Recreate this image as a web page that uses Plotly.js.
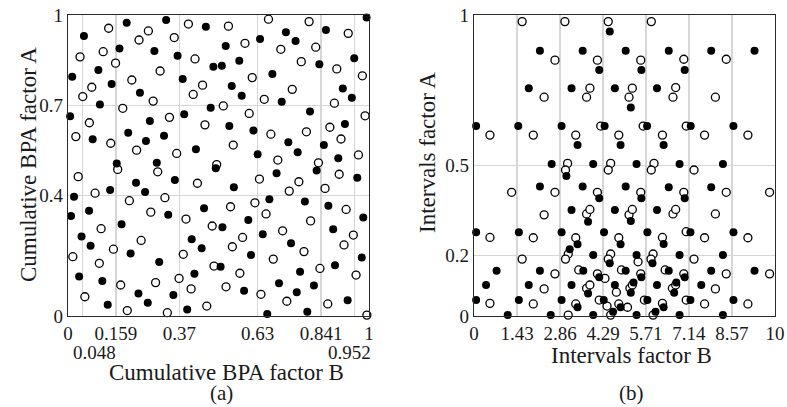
<!DOCTYPE html>
<html>
<head>
<meta charset="utf-8">
<script src="https://cdn.plot.ly/plotly-3.0.1.min.js"></script>
<style>html,body{margin:0;padding:0;background:#fff;}#chart{width:787px;height:407px;}</style>
</head>
<body>
<div id="chart"></div>
<script>
// ---------- Panel (a): cumulative BPA ----------
const aTicksX = [0, 0.048, 0.159, 0.37, 0.63, 0.841, 0.952, 1];
const aTickTextX = ['0', '', '0.159', '0.37', '0.63', '0.841', '', '1'];
const aTicksY = [0, 0.4, 0.7, 1];
const aTickTextY = ['0', '0.4', '0.7', '1'];

const aFilledX = [0.195,0.326,0.458,0.053,0.524,0.171,0.287,0.364,0.483,0.511,0.101,0.014,0.381,0.145,0.544,0.239,0.106,0.474,0.007,0.386,0.272,0.536,0.200,0.319,0.082,0.259,0.425,0.162,0.295,0.491,0.226,0.355,0.551,0.140,0.256,0.020,0.452,0.070,0.010,0.333,0.178,0.513,0.045,0.411,0.075,0.444,0.208,0.303,0.507,0.420,0.037,0.114,0.234,0.350,0.265,0.132,0.396,
  0.992,0.724,0.857,0.638,0.756,0.951,0.569,0.835,0.679,0.913,0.577,0.943,0.710,0.804,0.920,0.616,0.732,0.850,0.763,0.630,0.898,0.693,0.826,0.961,0.669,0.787,0.865,0.599,0.981,0.881,0.647,0.741,0.608,0.976,0.887,0.771,0.701,0.817,0.585,0.760,0.929,0.662,0.795];
const aFilledY = [0.974,0.983,0.961,0.930,0.897,0.889,0.880,0.865,0.828,0.831,0.817,0.795,0.787,0.771,0.764,0.742,0.703,0.692,0.664,0.670,0.648,0.631,0.609,0.599,0.587,0.581,0.554,0.507,0.509,0.491,0.443,0.452,0.428,0.419,0.412,0.396,0.358,0.350,0.332,0.336,0.305,0.295,0.264,0.255,0.233,0.225,0.208,0.179,0.164,0.140,0.131,0.116,0.075,0.070,0.044,0.037,0.022,
  0.992,0.943,0.950,0.920,0.914,0.856,0.848,0.836,0.804,0.756,0.732,0.725,0.712,0.679,0.638,0.616,0.577,0.568,0.544,0.537,0.524,0.474,0.483,0.459,0.388,0.380,0.366,0.319,0.327,0.288,0.272,0.242,0.203,0.194,0.169,0.147,0.109,0.101,0.084,0.079,0.052,0.007,0.014];

const aOpenX = [0.400,0.533,0.135,0.267,0.236,0.353,0.117,0.040,0.422,0.158,0.306,0.212,0.447,0.079,0.416,0.049,0.283,0.182,0.516,0.337,0.071,0.455,0.026,0.142,0.549,0.228,0.361,0.165,0.298,0.494,0.034,0.430,0.090,0.322,0.204,0.540,0.275,0.392,0.479,0.110,0.243,0.151,0.546,0.383,0.016,0.104,0.485,0.369,0.291,0.175,0.525,0.409,0.056,0.461,0.197,0.330,
  0.666,0.801,0.931,0.588,0.707,0.823,0.775,0.893,0.978,0.612,0.745,0.652,0.885,0.602,0.987,0.870,0.792,0.674,0.907,0.965,0.697,0.832,0.901,0.636,0.767,0.735,0.854,0.621,0.924,0.658,0.806,0.713,0.580,0.948,0.917,0.784,0.682,0.837,0.571,0.957,0.641,0.727,0.863,0.993];
const aOpenY = [0.970,0.963,0.956,0.947,0.917,0.925,0.878,0.861,0.854,0.840,0.814,0.784,0.767,0.760,0.736,0.729,0.714,0.690,0.698,0.660,0.642,0.635,0.596,0.574,0.568,0.551,0.540,0.487,0.479,0.503,0.463,0.441,0.408,0.393,0.383,0.363,0.345,0.322,0.299,0.290,0.251,0.222,0.230,0.205,0.197,0.175,0.166,0.125,0.111,0.103,0.097,0.090,0.064,0.033,0.018,0.011,
  0.986,0.978,0.939,0.906,0.886,0.893,0.845,0.821,0.798,0.792,0.753,0.720,0.707,0.673,0.665,0.627,0.612,0.604,0.588,0.535,0.518,0.509,0.471,0.455,0.446,0.415,0.424,0.376,0.354,0.339,0.316,0.283,0.261,0.269,0.236,0.214,0.189,0.158,0.142,0.136,0.072,0.049,0.040,0.003];

// ---------- Panel (b): intervals ----------
const bTicksX = [0, 1.43, 2.86, 4.29, 5.71, 7.14, 8.57, 10];
const bTickTextX = ['0', '1.43', '2.86', '4.29', '5.71', '7.14', '8.57', '10'];
const bTicksY = [0, 0.2, 0.5, 1];
const bTickTextY = ['0', '0.2', '0.5', '1'];

const bFilledX = [0.07,0.07,0.75,0.40,0.07,1.12,
  4.51,
  2.19,3.61,5.04,6.47,7.88,9.32,
  4.16,5.56,7.00,
  1.82,3.24,4.68,6.08,
  5.21,
  1.47,2.91,4.34,5.75,7.20,8.62,
  3.44,4.87,6.30,
  2.58,3.96,5.40,6.83,8.27,
  3.07,
  2.19,3.61,5.04,6.47,7.88,
  4.16,5.56,7.00,
  3.24,4.68,6.08,
  3.79,5.21,
  1.49,2.91,4.32,5.76,7.19,8.62,
  3.44,4.87,6.30,
  3.18,
  3.96,5.40,6.83,8.27,
  4.51,5.93,
  2.19,3.63,5.04,6.47,7.88,9.32,
  4.16,5.56,7.00,
  1.82,3.24,4.68,6.08,7.55,
  5.30,6.72,
  3.79,5.21,6.65,
  1.49,2.91,4.31,5.76,7.19,8.62,
  3.44,4.87,6.30,
  4.62,6.03,
  2.55,3.96,5.40,6.83,8.27];
const bFilledY = [0.631,0.278,0.150,0.103,0.053,0.003,
  0.945,
  0.881,0.881,0.881,0.881,0.881,0.881,
  0.817,0.817,0.817,
  0.757,0.757,0.757,0.757,
  0.693,
  0.631,0.631,0.631,0.631,0.631,0.631,
  0.568,0.568,0.568,
  0.505,0.505,0.505,0.505,0.505,
  0.465,
  0.430,0.430,0.430,0.428,0.428,
  0.391,0.391,0.391,
  0.352,0.352,0.352,
  0.313,0.316,
  0.278,0.278,0.278,0.278,0.278,0.278,
  0.238,0.238,0.239,
  0.222,
  0.203,0.203,0.203,0.203,
  0.175,0.175,
  0.150,0.150,0.150,0.150,0.150,0.150,
  0.129,0.129,0.129,
  0.103,0.103,0.103,0.103,0.103,
  0.111,0.111,
  0.075,0.077,0.077,
  0.053,0.053,0.053,0.053,0.053,0.053,
  0.029,0.029,0.029,
  0.014,0.014,
  0.003,0.003,0.003,0.003,0.003];

const bOpenX = [1.60,3.02,4.46,5.89,
  2.69,4.10,5.54,6.97,8.38,
  3.85,5.26,6.70,
  2.33,3.74,5.15,6.61,8.02,
  4.21,5.62,7.05,
  0.53,1.97,3.38,4.81,6.26,7.66,9.10,
  3.11,4.54,5.98,
  3.04,4.46,5.89,7.31,
  1.25,2.69,4.10,5.54,6.97,8.38,9.82,
  2.33,3.74,5.15,6.61,8.02,
  3.85,5.26,6.70,
  0.53,1.97,3.38,4.81,6.26,7.66,9.10,7.05,
  3.13,4.54,5.95,
  1.60,3.04,4.46,5.88,7.31,
  5.45,
  2.69,4.10,5.54,6.97,8.38,9.82,
  3.48,4.90,6.35,
  4.35,
  2.33,3.74,5.18,6.59,8.02,
  3.85,5.26,6.70,
  4.73,
  0.53,1.97,3.38,4.81,6.26,7.66,9.10,
  4.16,5.66,7.05,
  4.42,5.10,
  3.13,4.54,5.95];
const bOpenY = [0.978,0.978,0.978,0.978,
  0.850,0.850,0.850,0.853,0.853,
  0.757,0.757,0.759,
  0.727,0.727,0.727,0.727,0.727,
  0.631,0.631,0.631,
  0.601,0.601,0.601,0.601,0.601,0.601,0.601,
  0.507,0.507,0.507,
  0.485,0.485,0.485,0.485,
  0.411,0.411,0.411,0.411,0.411,0.411,0.411,
  0.336,0.339,0.336,0.339,0.339,
  0.354,0.354,0.354,
  0.261,0.260,0.260,0.260,0.261,0.260,0.260,0.280,
  0.206,0.206,0.206,
  0.189,0.189,0.189,0.189,0.189,
  0.180,
  0.140,0.140,0.140,0.140,0.140,0.140,
  0.153,0.153,0.153,
  0.125,
  0.090,0.092,0.092,0.092,0.090,
  0.103,0.103,0.103,
  0.079,
  0.042,0.040,0.040,0.040,0.042,0.040,0.040,
  0.053,0.053,0.053,
  0.033,0.029,
  0.003,0.003,0.003];

// ---------- styling ----------
const FONT = 'Liberation Serif, Times New Roman, serif';
const TXT = '#1a1a1a';
const GRID = '#d6d6d6';
const LINE = '#2b2b2b';

const filledMarker = {symbol: 'circle', size: 8, color: '#000000', line: {width: 0}};
const openMarker = {symbol: 'circle', size: 8, color: '#ffffff', line: {color: '#000000', width: 1.3}};

const traces = [
  {x: aOpenX, y: aOpenY, xaxis: 'x', yaxis: 'y', type: 'scatter', mode: 'markers', marker: openMarker, cliponaxis: false, hoverinfo: 'x+y'},
  {x: aFilledX, y: aFilledY, xaxis: 'x', yaxis: 'y', type: 'scatter', mode: 'markers', marker: filledMarker, cliponaxis: false, hoverinfo: 'x+y'},
  {x: bOpenX, y: bOpenY, xaxis: 'x2', yaxis: 'y2', type: 'scatter', mode: 'markers', marker: openMarker, cliponaxis: false, hoverinfo: 'x+y'},
  {x: bFilledX, y: bFilledY, xaxis: 'x2', yaxis: 'y2', type: 'scatter', mode: 'markers', marker: filledMarker, cliponaxis: false, hoverinfo: 'x+y'}
];

const W = 787, H = 407;
function axisBase(tickvals, ticktext, range, domain, anchor) {
  return {
    range: range, domain: domain, anchor: anchor,
    tickmode: 'array', tickvals: tickvals, ticktext: ticktext,
    ticks: '', showgrid: true, gridcolor: GRID, gridwidth: 1.3,
    zeroline: false, showline: true, linecolor: LINE, linewidth: 1.3, mirror: true,
    tickfont: {family: FONT, size: 19, color: TXT},
    fixedrange: true
  };
}
const yDom = [(H - 316) / H, (H - 15) / H];
const titleFont = {family: FONT, size: 23, color: TXT};
const labelFont = {family: FONT, size: 21, color: TXT};
const tickFont = {family: FONT, size: 19, color: TXT};
function note(text, x, y, opts) {
  return Object.assign({text: text, xref: 'paper', x: x / W, yref: 'paper', y: (H - y) / H,
    xanchor: 'center', yanchor: 'middle', showarrow: false, font: titleFont}, opts || {});
}
const layout = {
  width: W, height: H,
  margin: {l: 0, r: 0, t: 0, b: 0},
  paper_bgcolor: '#ffffff', plot_bgcolor: '#ffffff',
  showlegend: false,
  font: {family: FONT, color: TXT},
  xaxis: axisBase(aTicksX, aTickTextX, [0, 1], [68 / W, 369 / W], 'y'),
  yaxis: axisBase(aTicksY, aTickTextY, [0, 1], yDom, 'x'),
  xaxis2: axisBase(bTicksX, bTickTextX, [0, 10], [474 / W, 775 / W], 'y2'),
  yaxis2: axisBase(bTicksY, bTickTextY, [0, 1], yDom, 'x2'),
  annotations: [
    {text: '0.048', xref: 'x', x: 0.048, xshift: 12, yref: 'paper', y: (H - 352.5) / H, xanchor: 'center', yanchor: 'middle', showarrow: false, font: tickFont},
    {text: '0.952', xref: 'x', x: 0.952, xshift: -5, yref: 'paper', y: (H - 352.5) / H, xanchor: 'center', yanchor: 'middle', showarrow: false, font: tickFont},
    note('Cumulative BPA factor B', 226, 372.5),
    note('(a)', 222, 393, {font: labelFont}),
    note('Cumulative BPA factor A', 28, 165, {textangle: -90}),
    note('Intervals factor B', 631, 355),
    note('(b)', 631, 393, {font: labelFont}),
    note('Intervals factor A', 428, 153, {textangle: -90})
  ]
};

Plotly.newPlot('chart', traces, layout, {displayModeBar: false, staticPlot: true});
</script>
</body>
</html>
